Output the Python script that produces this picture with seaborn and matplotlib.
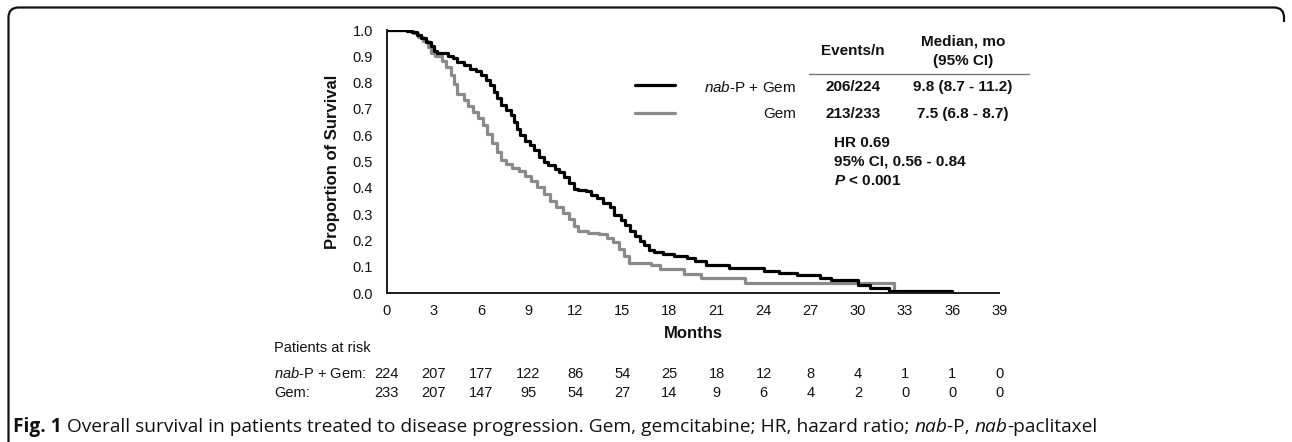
import numpy as np
import pandas as pd
import matplotlib
matplotlib.use("Agg")
import matplotlib.pyplot as plt
import seaborn as sns
from matplotlib.path import Path
from matplotlib.patches import PathPatch

# ---------------- data ----------------
nab_time = [0, 1.3, 1.6, 1.9, 2.2, 2.5, 2.8, 3.0, 3.2, 3.9, 4.2, 4.5, 4.9, 5.3, 5.7,
            6.0, 6.3, 6.6, 6.8, 7.0, 7.3, 7.6, 7.9, 8.1, 8.3, 8.5, 8.8, 9.1, 9.4, 9.7,
            10.0, 10.3, 10.7, 11.0, 11.3, 11.6, 11.9, 12.2, 12.7, 13.0, 13.4, 13.8, 14.2,
            14.5, 14.9, 15.2, 15.5, 15.8, 16.1, 16.4, 16.7, 17.0, 17.6, 18.3, 19.1, 19.6,
            20.3, 21.8, 24.0, 25.0, 26.1, 27.6, 28.3, 30.0, 30.8, 32.0, 36.0]
nab_surv = [1.0, 0.996, 0.991, 0.982, 0.969, 0.955, 0.938, 0.920, 0.911, 0.902, 0.893,
            0.879, 0.866, 0.853, 0.844, 0.830, 0.812, 0.790, 0.763, 0.741, 0.714, 0.696,
            0.679, 0.652, 0.625, 0.603, 0.580, 0.562, 0.545, 0.518, 0.500, 0.487, 0.473,
            0.460, 0.442, 0.420, 0.397, 0.393, 0.388, 0.375, 0.362, 0.344, 0.326, 0.299,
            0.277, 0.259, 0.237, 0.219, 0.200, 0.183, 0.165, 0.156, 0.148, 0.142, 0.133,
            0.121, 0.107, 0.095, 0.086, 0.078, 0.069, 0.059, 0.050, 0.032, 0.019, 0.008, 0.0]

gem_time = [0, 1.4, 1.7, 2.0, 2.3, 2.6, 2.8, 3.1, 3.5, 3.8, 4.1, 4.3, 4.5, 4.9, 5.2, 5.5,
            5.8, 6.1, 6.4, 6.7, 7.0, 7.3, 7.6, 8.0, 8.4, 8.8, 9.2, 9.6, 10.0, 10.4, 10.8,
            11.2, 11.6, 11.9, 12.2, 12.8, 13.5, 14.0, 14.4, 14.8, 15.1, 15.4, 16.8, 17.4,
            18.9, 20.0, 22.8, 32.3]
gem_surv = [1.0, 0.996, 0.987, 0.974, 0.957, 0.935, 0.913, 0.900, 0.882, 0.860, 0.830,
            0.795, 0.757, 0.734, 0.712, 0.690, 0.667, 0.640, 0.605, 0.570, 0.537, 0.507,
            0.490, 0.476, 0.463, 0.446, 0.425, 0.403, 0.378, 0.352, 0.326, 0.305, 0.283,
            0.257, 0.236, 0.230, 0.224, 0.210, 0.193, 0.167, 0.142, 0.116, 0.107, 0.093,
            0.073, 0.058, 0.040, 0.0]

risk_months = [0, 3, 6, 9, 12, 15, 18, 21, 24, 27, 30, 33, 36, 39]
risk_nab = [224, 207, 177, 122, 86, 54, 25, 18, 12, 8, 4, 1, 1, 0]
risk_gem = [233, 207, 147, 95, 54, 27, 14, 9, 6, 4, 2, 0, 0, 0]

y_ticks = [0.0, 0.1, 0.2, 0.3, 0.4, 0.5, 0.6, 0.7, 0.8, 0.9, 1.0]
arm_labels = [r"$\mathit{nab}$-P + Gem", "Gem"]
events_n = ["206/224", "213/233"]
medians = ["9.8 (8.7 - 11.2)", "7.5 (6.8 - 8.7)"]
stats_lines = ["HR 0.69", "95% CI, 0.56 - 0.84", r"$\mathbfit{P}$ < 0.001"]
risk_labels = [r"$\mathit{nab}$-P + Gem:", "Gem:"]
# caption pieces: (text, weight, style)
caption_parts = [
    ("Fig. 1", "bold", "normal"),
    (" Overall survival in patients treated to disease progression. Gem, gemcitabine; HR, hazard ratio; ",
     "normal", "normal"),
    ("nab", "normal", "italic"),
    ("-P, ", "normal", "normal"),
    ("nab", "normal", "italic"),
    ("-paclitaxel", "normal", "normal"),
]

# ---------------- style ----------------
sns.set_theme(style="white")
plt.rcParams["font.family"] = ["Liberation Sans", "DejaVu Sans"]
plt.rcParams["mathtext.fontset"] = "custom"
plt.rcParams["mathtext.rm"] = "Liberation Sans"
plt.rcParams["mathtext.it"] = "Liberation Sans:italic"
plt.rcParams["mathtext.bf"] = "Liberation Sans:bold"
plt.rcParams["mathtext.bfit"] = "Liberation Sans:bold:italic"
plt.rcParams["mathtext.default"] = "regular"

W, H = 1292, 442
fig = plt.figure(figsize=(W / 100, H / 100), dpi=100)
fig.patch.set_facecolor("white")


def fx(x):
    return x / W


def fy(y):
    return 1 - y / H


ax_left, ax_right, ax_top, ax_bot = 386.7, 999.3, 30.0, 293.3
ax = fig.add_axes([fx(ax_left), fy(ax_bot), fx(ax_right - ax_left), (ax_bot - ax_top) / H])

df = pd.concat([
    pd.DataFrame({"Months": nab_time, "Survival": nab_surv, "Arm": "nab-P + Gem"}),
    pd.DataFrame({"Months": gem_time, "Survival": gem_surv, "Arm": "Gem"}),
])
sns.lineplot(data=df[df.Arm == "Gem"], x="Months", y="Survival", ax=ax, color="#8a8a8a",
             lw=2.3, drawstyle="steps-post", estimator=None, sort=False, legend=False)
sns.lineplot(data=df[df.Arm == "nab-P + Gem"], x="Months", y="Survival", ax=ax, color="#000000",
             lw=2.3, drawstyle="steps-post", estimator=None, sort=False, legend=False)

ax.set_xlim(0, 39)
ax.set_ylim(0, 1.0)
ax.set_xticks(risk_months)
ax.set_xticklabels([str(m) for m in risk_months])
ax.set_yticks(y_ticks)
ax.set_yticklabels([f"{v:.1f}" for v in y_ticks])
for s in ["top", "right"]:
    ax.spines[s].set_visible(False)
for s in ["left", "bottom"]:
    ax.spines[s].set_color("#1a1a1a")
    ax.spines[s].set_linewidth(1.4)
ax.tick_params(axis="both", which="both", direction="out", length=4, width=1.2,
               color="#1a1a1a", labelsize=10.5, labelcolor="#111111")
ax.tick_params(axis="y", pad=6)
ax.tick_params(axis="x", pad=4)
ax.set_xlabel("")
ax.set_ylabel("")
ax.patch.set_alpha(0)

# axis titles
fig.text(fx(333), fy(161.6), "Proportion of Survival", rotation=90, fontsize=12,
         fontweight="bold", ha="center", va="center", color="#111111")
fig.text(fx(693), fy(334), "Months", fontsize=12, fontweight="bold", ha="center",
         va="center", color="#111111")

# legend / summary table
line_y = [85.3, 112.7]
line_cols = ["#000000", "#8a8a8a"]
text_y = [87.0, 114.0]
for i in range(2):
    fig.add_artist(plt.Line2D([fx(635), fx(675)], [fy(line_y[i]), fy(line_y[i])],
                              color=line_cols[i], lw=2.3, transform=fig.transFigure))
    fig.text(fx(796), fy(text_y[i]), arm_labels[i], fontsize=11, ha="right", va="center",
             color="#111111")
    fig.text(fx(853), fy(text_y[i]), events_n[i], fontsize=11, fontweight="bold",
             ha="center", va="center", color="#111111")
    fig.text(fx(963), fy(text_y[i]), medians[i], fontsize=11, fontweight="bold",
             ha="center", va="center", color="#111111")

fig.text(fx(853), fy(51), "Events/n", fontsize=11, fontweight="bold", ha="center",
         va="center", color="#111111")
fig.text(fx(963), fy(41.7), "Median, mo", fontsize=11, fontweight="bold", ha="center",
         va="center", color="#111111")
fig.text(fx(963), fy(61), "(95% CI)", fontsize=11, fontweight="bold", ha="center",
         va="center", color="#111111")
fig.add_artist(plt.Line2D([fx(809), fx(1029)], [fy(74), fy(74)], color="#777777", lw=1.0,
                          transform=fig.transFigure))

for i, t in enumerate(stats_lines):
    fig.text(fx(834), fy(143 + 19 * i), t, fontsize=11, fontweight="bold", ha="left",
             va="center", color="#111111")

# risk table
fig.text(fx(274), fy(348), "Patients at risk", fontsize=10.5, ha="left", va="center",
         color="#111111")
row_y = [374, 392.7]
for r, counts in enumerate([risk_nab, risk_gem]):
    fig.text(fx(274), fy(row_y[r]), risk_labels[r], fontsize=10.5, ha="left", va="center",
             color="#111111")
    for m, c in zip(risk_months, counts):
        xd = ax.transData.transform((m, 0))[0]
        fig.text(xd / W, fy(row_y[r]), str(c), fontsize=10.5, ha="center", va="center",
                 color="#111111")

# caption, drawn piece by piece
cap_font = ["Open Sans", "DejaVu Sans"]
renderer = fig.canvas.get_renderer()
cx = 13.0
for txt, wt, st in caption_parts:
    t = fig.text(fx(cx), fy(432), txt, fontsize=13.8, fontweight=wt, fontstyle=st,
                 ha="left", va="baseline", family=cap_font, color="#111111")
    cx = t.get_window_extent(renderer=renderer).x1

# rounded border (left, top, top-right corner)
r = 10
verts = [(fx(8.5), fy(442)), (fx(8.5), fy(7.5 + r)),
         (fx(8.5), fy(7.5)), (fx(8.5 + r), fy(7.5)),
         (fx(1284 - r), fy(7.5)),
         (fx(1284), fy(7.5)), (fx(1284), fy(7.5 + r)),
         (fx(1284), fy(22))]
codes = [Path.MOVETO, Path.LINETO, Path.CURVE3, Path.CURVE3, Path.LINETO,
         Path.CURVE3, Path.CURVE3, Path.LINETO]
fig.add_artist(PathPatch(Path(verts, codes), fill=False, lw=1.6, edgecolor="#111111",
                         transform=fig.transFigure))

fig.savefig("out.png", dpi=100, facecolor="white")
